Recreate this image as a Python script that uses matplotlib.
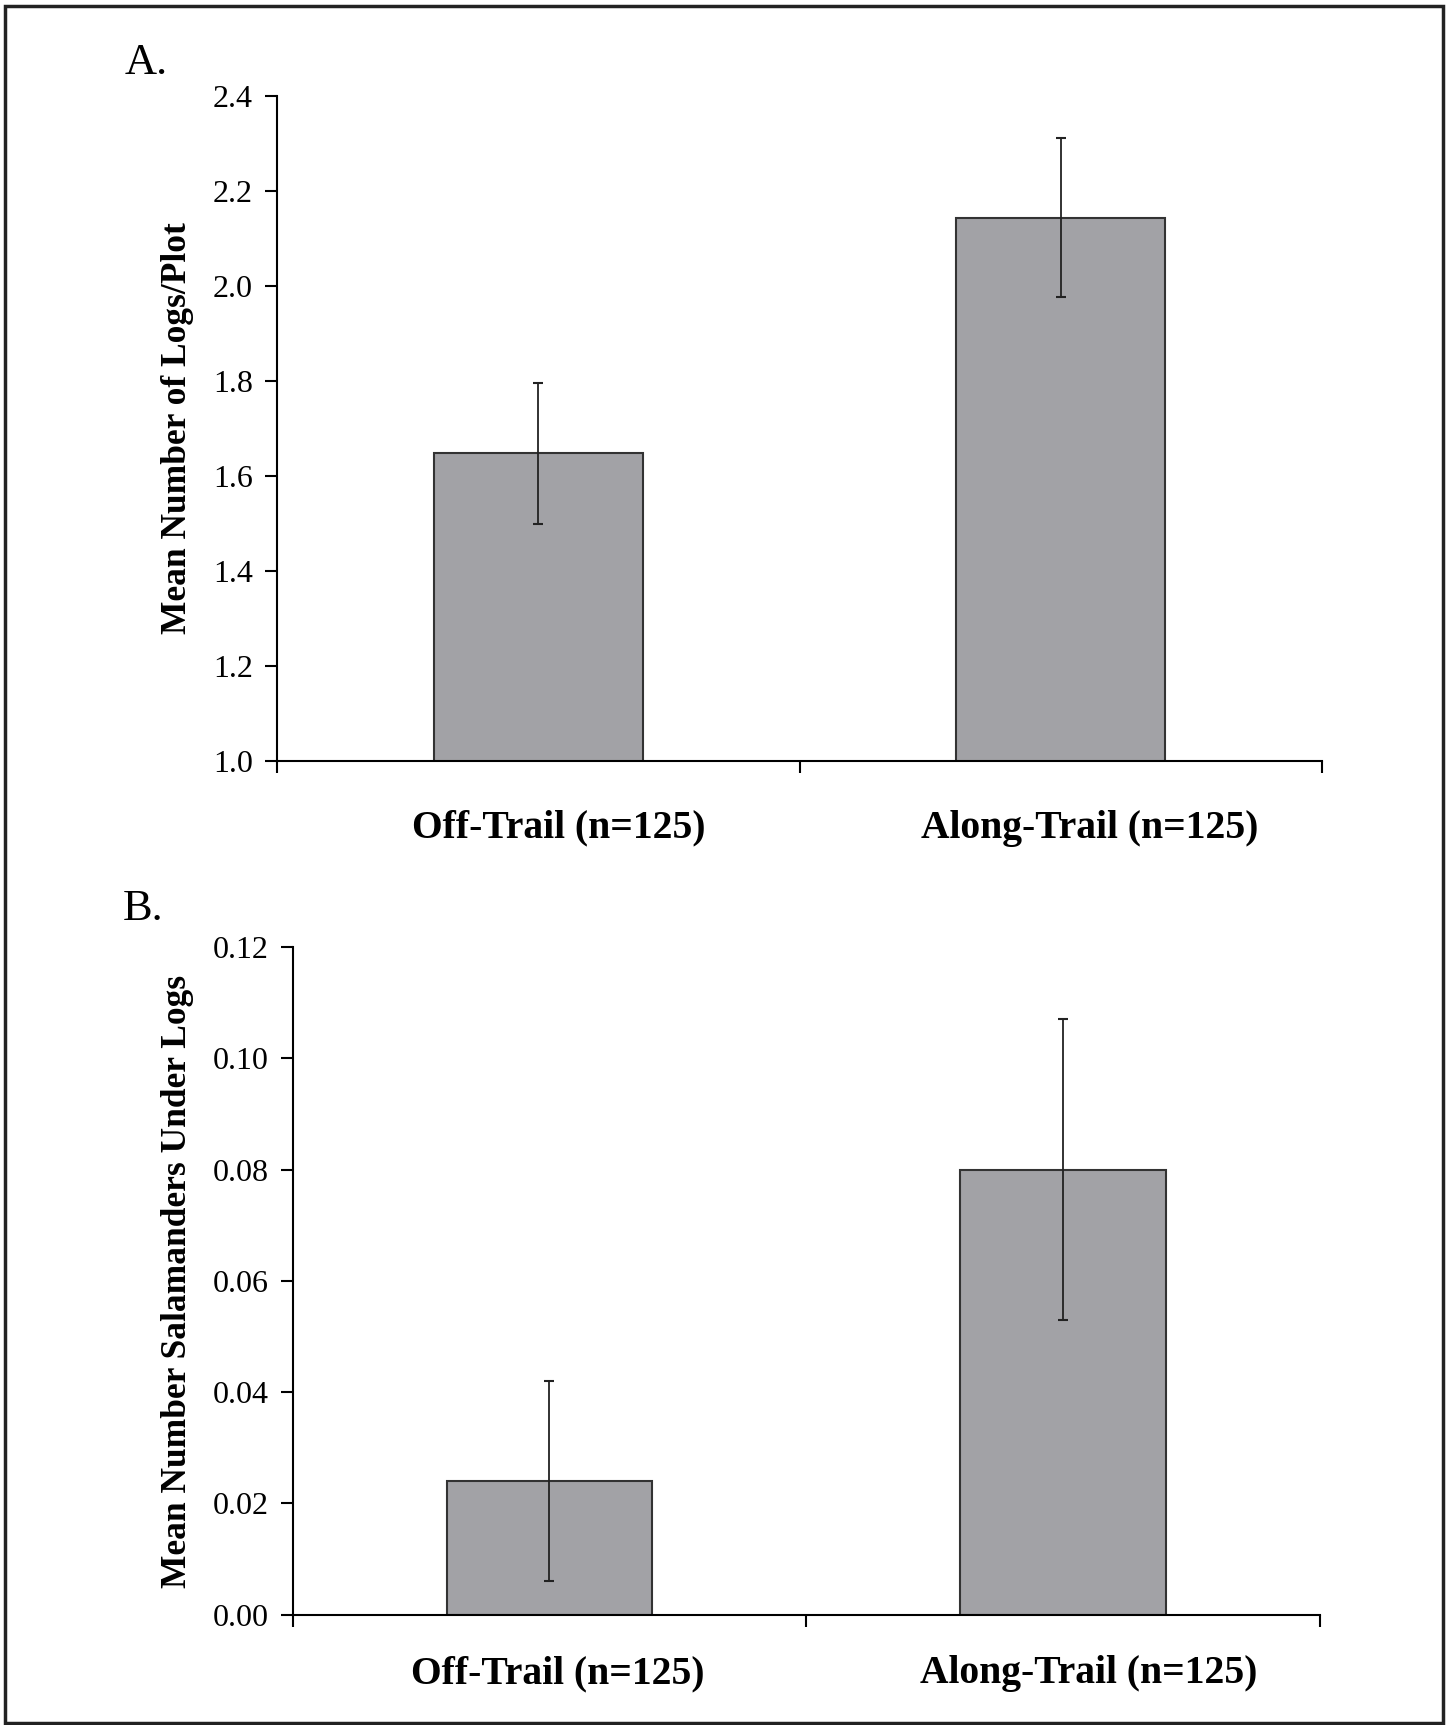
import matplotlib
matplotlib.use("Agg")
import matplotlib.pyplot as plt
from matplotlib.patches import Rectangle
from matplotlib.transforms import ScaledTranslation

plt.rcParams["font.family"] = ["Liberation Serif", "DejaVu Serif"]

# data
groups = ["Off-Trail (n=125)", "Along-Trail (n=125)"]
logs_mean = [1.648, 2.144]
logs_err = [0.148, 0.168]
sal_mean = [0.024, 0.080]
sal_err = [0.018, 0.027]

bar_color = "#a2a2a6"
edge = "#333333"

fig = plt.figure(figsize=(14.52, 17.25), dpi=100)

panels = [
    dict(rect=[0.1909, 0.5588, 0.7197, 0.3855], mean=logs_mean, err=logs_err,
         ylim=(1.0, 2.4), yticks=[1.0, 1.2, 1.4, 1.6, 1.8, 2.0, 2.2, 2.4], fmt="{:.1f}",
         ylabel="Mean Number of Logs/Plot", letter="A.", letter_xy=(125, 74),
         ylabel_xy=(178, 428), pad=35, shift=[20, 29]),
    dict(rect=[0.2015, 0.0639, 0.7076, 0.3871], mean=sal_mean, err=sal_err,
         ylim=(0.0, 0.12), yticks=[0.0, 0.02, 0.04, 0.06, 0.08, 0.10, 0.12], fmt="{:.2f}",
         ylabel="Mean Number Salamanders Under Logs", letter="B.", letter_xy=(123, 920),
         ylabel_xy=(178, 1281), pad=29, shift=[8, 26]),
]

W, H = 1452, 1725
for p in panels:
    ax = fig.add_axes(p["rect"])
    xs = [0.5, 1.5]
    ax.bar(xs, p["mean"], width=0.4, color=bar_color, edgecolor=edge, linewidth=1.5,
           zorder=2)
    ax.errorbar(xs, p["mean"], yerr=p["err"], fmt="none", ecolor="#222222",
                elinewidth=1.3, capsize=3.5, capthick=1.5, zorder=3)
    ax.set_xlim(0, 2)
    ax.set_ylim(*p["ylim"])
    ax.set_yticks(p["yticks"])
    ax.set_yticklabels([p["fmt"].format(v) for v in p["yticks"]], fontsize=23)
    ax.set_xticks([0, 1, 2])
    ax.set_xticklabels([])
    ax.set_xticks(xs, minor=True)
    ax.set_xticklabels(groups, minor=True, fontsize=28.5, fontweight="bold")
    ax.tick_params(axis="x", which="minor", length=0, pad=p["pad"])
    ax.tick_params(axis="both", which="major", direction="out", length=8.5, width=1.5,
                   color="black")
    ax.tick_params(axis="y", pad=9)
    # category labels sit a little right of the bar centres in the original
    for lab, dx in zip(ax.get_xticklabels(minor=True), p["shift"]):
        lab.set_transform(lab.get_transform() + ScaledTranslation(dx / 100, 0, fig.dpi_scale_trans))
    for s in ["top", "right"]:
        ax.spines[s].set_visible(False)
    for s in ["left", "bottom"]:
        ax.spines[s].set_linewidth(1.5)
    fig.text(p["letter_xy"][0] / W, 1 - p["letter_xy"][1] / H, p["letter"],
             fontsize=32, ha="left", va="baseline")
    fig.text(p["ylabel_xy"][0] / W, 1 - p["ylabel_xy"][1] / H, p["ylabel"],
             fontsize=25.5, fontweight="bold", rotation=90, ha="center", va="center")

# frame around the whole figure
fig.patches.append(Rectangle((5 / W, 2 / H), 1438 / W, 1717 / H, transform=fig.transFigure,
                             fill=False, edgecolor="#222222", linewidth=2.5))

fig.savefig("out.png", dpi=100)
